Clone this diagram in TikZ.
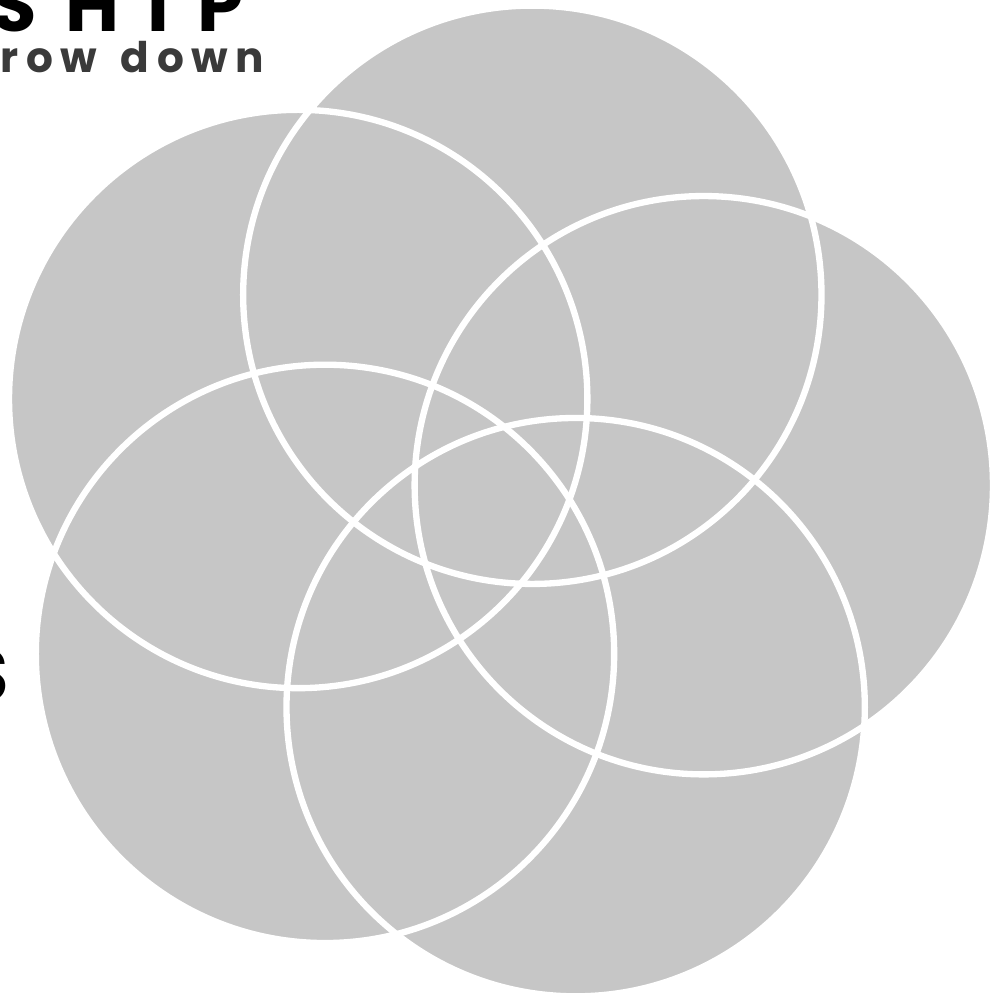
\documentclass[tikz,border=0pt]{standalone}
\usepackage{fontspec}
\usetikzlibrary{calc}
\newfontfamily\headfont[LetterSpace=38]{Poppins}
\newfontfamily\subfont[LetterSpace=18]{Poppins}
\definecolor{petal}{HTML}{C6C6C6}
\definecolor{subgrey}{HTML}{3A3A3A}
\tikzset{
    petalfill/.style={fill=petal},
    petalrim/.style={draw=white, line width=1.8pt},
    label/.style={inner sep=0pt, anchor=base west},
}

\begin{document}
\begin{tikzpicture}[x=0.01cm, y=0.01cm]
    % Canvas
    \clip (0,0) rectangle (1005,1002);
    \fill[white] (0,0) rectangle (1005,1002);
    \coordinate (hub) at (487,494);

    % Petals, then their rims on top
    \foreach \a in {78,6,-66,-138,150}
        \fill[petalfill] ($(hub)+(\a:218)$) circle [radius=2.89cm];
    \foreach \a in {78,6,-66,-138,150}
        \draw[petalrim] ($(hub)+(\a:218)$) circle [radius=2.89cm];

    % Cut-off headings
    \node[label] (title) at (-9,970) {\headfont\bfseries\fontsize{21}{21}\selectfont SHIP};
    \node[label, text=subgrey] (subtitle) at (0,929) {\subfont\bfseries\fontsize{12}{12}\selectfont row~\hspace{2pt}down};
    \node[label] (sideletter) at (-37,300) {\headfont\bfseries\fontsize{21}{21}\selectfont S};
\end{tikzpicture}
\end{document}
